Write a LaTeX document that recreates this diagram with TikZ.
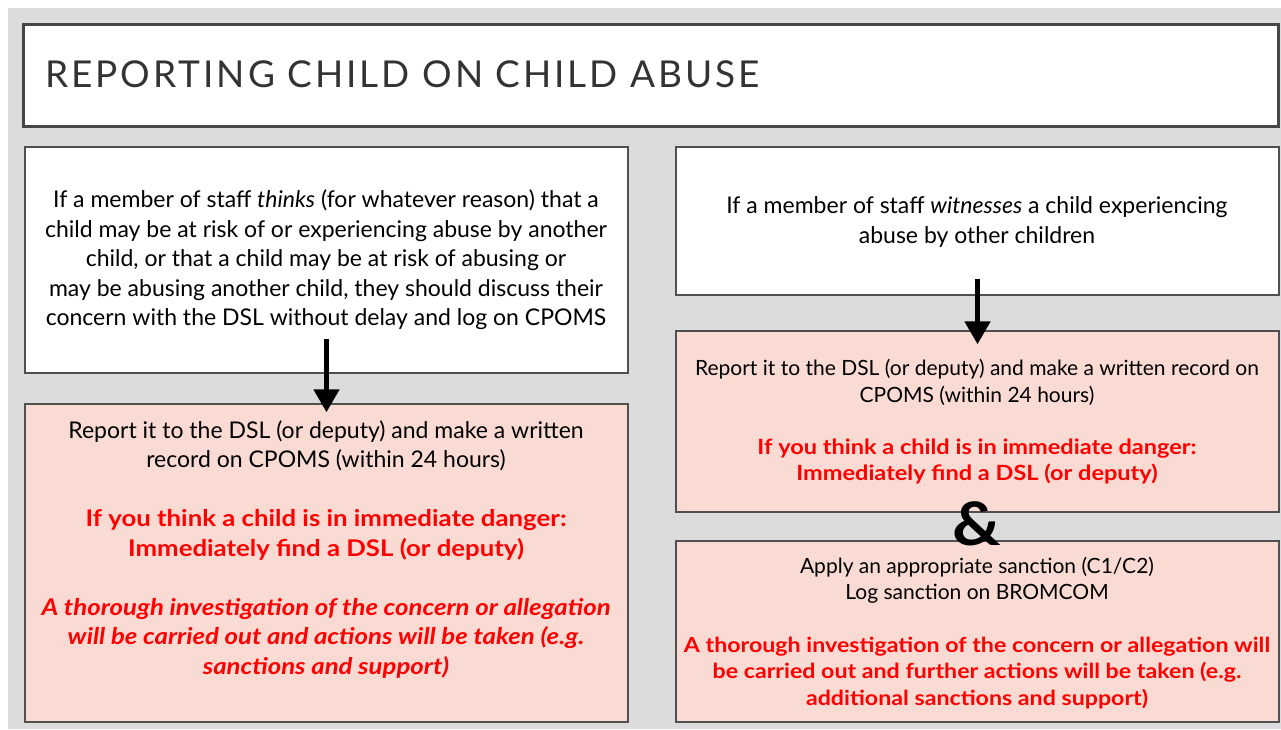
\documentclass[tikz,border=0pt]{standalone}
\usepackage{fontspec}
\setmainfont{Lato}[BoldFeatures={FakeStretch=1.12},BoldItalicFeatures={FakeStretch=1.12}]
\usetikzlibrary{arrows.meta}
\definecolor{bggray}{RGB}{220,220,220}
\definecolor{pinkfill}{RGB}{249,219,211}
\definecolor{boxline}{RGB}{80,80,80}
\definecolor{titlegray}{RGB}{51,51,51}
\definecolor{alertred}{RGB}{255,0,0}
\newfontfamily\titlefont[LetterSpace=8]{Lato}
\newcommand{\redsmall}{\fontsize{20.7}{26.3}\selectfont}
\tikzset{
  whitebox/.style={draw=boxline, line width=1.5pt, fill=white, minimum width=603pt, inner sep=0pt},
  pinkbox/.style={draw=boxline, line width=1.5pt, fill=pinkfill, minimum width=603pt, inner sep=0pt},
  bigtext/.style={align=center, inner sep=0pt, font=\fontsize{23}{29.5}\selectfont},
  smalltext/.style={align=center, inner sep=0pt, font=\fontsize{21}{26.3}\selectfont},
  bigarrow/.style={line width=5pt, -{Triangle[width=25pt,length=23pt]}},
}
\begin{document}
\begin{tikzpicture}[x=1pt,y=-1pt]
\path[use as bounding box, fill=white] (0,0) rectangle (1281,729);
\fill[bggray] (8,8) rectangle (1281,729);
% title
\node[draw=titlegray!90, line width=3pt, fill=white, minimum width=1255pt, minimum height=102pt, inner sep=0pt] (title) at (651,75) {};
\node[anchor=west, inner sep=0pt, text=titlegray, font=\titlefont\fontsize{37}{40}\selectfont] (titletext) at (45,74) {REPORTING CHILD ON CHILD ABUSE};
% left column
\node[whitebox, minimum height=226pt] (lt) at (326.5,260) {};
\node[pinkbox, minimum height=318pt] (lb) at (326.5,563) {};
% right column
\node[whitebox, minimum height=148pt] (rt) at (977.5,221) {};
\node[pinkbox, minimum height=181pt] (rm) at (977.5,421.5) {};
\node[pinkbox, minimum height=181pt] (rb) at (977.5,631.5) {};
% texts
\node[bigtext] (ltt) at (326,260) {If a member of staff \textit{thinks} (for whatever reason) that a\\
child may be at risk of or experiencing abuse by another\\
child, or that a child may be at risk of abusing or\\
may be abusing another child, they should discuss their\\
concern with the DSL without delay and log on CPOMS};
\node[bigtext] (lbt) at (326,549) {Report it to the DSL (or deputy) and make a written\\
record on CPOMS (within 24 hours)\\[29.5pt]
\textcolor{alertred}{\textbf{If you think a child is in immediate danger:}}\\
\textcolor{alertred}{\textbf{Immediately find a DSL (or deputy)}}\\[29.5pt]
\textcolor{alertred}{\textbf{\textit{A thorough investigation of the concern or allegation}}}\\
\textcolor{alertred}{\textbf{\textit{will be carried out and actions will be taken (e.g.}}}\\
\textcolor{alertred}{\textbf{\textit{sanctions and support)}}}};
\node[bigtext] (rtt) at (977,222) {If a member of staff \textit{witnesses} a child experiencing\\
abuse by other children};
\node[smalltext] (rmt) at (977,422) {Report it to the DSL (or deputy) and make a written record on\\
CPOMS (within 24 hours)\\[26.3pt]
\textcolor{alertred}{\textbf{If you think a child is in immediate danger:}}\\
\textcolor{alertred}{\textbf{Immediately find a DSL (or deputy)}}};
\node[smalltext] (rbt) at (977,633) {Apply an appropriate sanction (C1/C2)\\
Log sanction on BROMCOM\\[26.3pt]
\textcolor{alertred}{\redsmall\textbf{A thorough investigation of the concern or allegation will}}\\
\textcolor{alertred}{\redsmall\textbf{be carried out and further actions will be taken (e.g.}}\\
\textcolor{alertred}{\redsmall\textbf{additional sanctions and support)}}};
% connectors
\draw[bigarrow] ([yshift=35pt]lt.south) -- ([yshift=-9pt]lb.north);
\draw[bigarrow] ([yshift=17pt]rt.south) -- ([yshift=-14pt]rm.north);
\node[inner sep=0pt, font=\fontsize{60}{62}\selectfont\bfseries] (amp) at (977,524) {\&};
\end{tikzpicture}
\end{document}
